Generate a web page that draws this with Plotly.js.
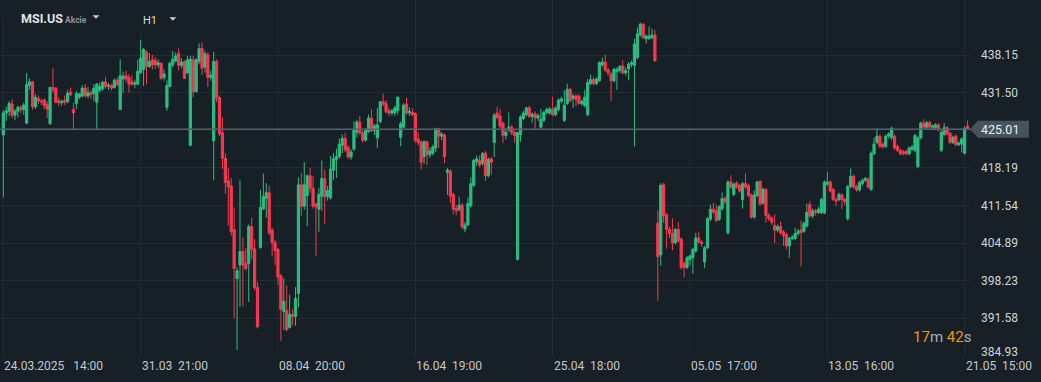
<!DOCTYPE html>
<html><head><meta charset="utf-8">
<script src="https://cdn.plot.ly/plotly-3.0.1.min.js"></script>
<style>html,body{margin:0;padding:0;background:#182027;}#chart{width:1041px;height:382px;}</style>
</head><body><div id="chart"></div>
<script>
const opens = [
424.0,427.9,428.2,429.5,427.5,428.2,428.9,428.5,426.1,432.8,
433.4,429.0,430.5,430.0,430.2,429.4,426.0,432.4,432.3,430.1,
429.7,430.1,429.9,431.6,428.5,429.6,430.7,430.9,432.3,430.9,
431.5,431.3,429.8,431.9,432.2,433.4,432.6,432.8,432.4,433.7,
428.5,433.9,434.5,434.2,433.4,433.0,433.0,435.0,435.6,438.7,
436.1,437.3,437.2,436.4,436.7,434.2,428.9,432.6,436.4,437.1,
438.4,436.3,437.0,435.0,422.2,437.3,431.7,437.0,439.3,436.0,
438.2,434.2,423.0,437.0,430.6,424.4,419.9,415.9,415.0,407.3,
398.6,401.0,403.4,401.3,401.3,407.8,403.9,397.0,404.1,410.9,
412.8,413.8,407.2,405.0,403.8,399.1,392.8,393.0,390.0,392.3,
391.9,396.0,415.2,411.4,413.3,416.8,414.6,411.8,410.9,413.2,
416.3,413.1,412.9,417.8,419.7,420.2,422.2,423.4,421.8,420.1,
421.5,424.5,426.3,424.4,423.1,424.6,427.0,424.8,423.5,426.4,
429.9,429.6,428.3,427.9,427.9,428.3,423.6,425.4,429.5,427.9,
428.0,427.8,423.3,422.8,420.2,422.8,420.5,420.8,421.7,425.1,
423.8,424.0,417.4,417.6,413.5,411.0,410.9,411.6,407.4,408.1,
411.5,415.1,419.3,419.5,419.0,420.8,416.8,419.8,422.7,427.9,
427.4,426.1,423.9,424.9,425.4,424.5,402.0,424.1,426.9,427.6,
428.8,427.3,427.7,427.0,425.4,426.6,428.0,427.9,428.6,427.6,
428.5,430.0,426.6,429.6,432.1,430.5,430.9,430.9,429.6,429.2,
427.6,433.1,433.8,433.1,433.6,436.4,436.9,435.5,434.8,433.6,
435.2,435.4,436.2,435.0,435.7,436.5,436.3,437.7,441.7,443.6,
441.0,441.1,441.2,441.7,408.4,402.8,415.2,409.9,407.3,406.6,
405.0,407.3,405.6,401.3,400.6,402.0,402.3,403.5,405.8,405.1,
401.6,404.1,409.1,410.9,410.6,409.1,411.0,412.8,406.7,415.7,
413.5,415.5,415.1,412.6,415.4,415.1,413.4,409.5,413.3,415.8,
412.0,414.4,409.8,409.3,408.0,407.2,407.8,406.9,406.4,404.4,
405.7,405.7,406.6,407.2,407.0,407.9,411.7,409.7,410.6,410.3,
410.3,410.2,415.3,415.7,414.4,412.6,412.6,413.4,412.6,409.2,
414.9,416.7,414.9,414.3,415.4,416.0,416.2,414.4,420.7,422.7,
423.8,422.4,422.0,423.8,423.5,423.8,422.0,421.3,421.1,421.1,
420.7,421.5,421.3,418.4,423.5,426.1,425.4,426.2,425.4,425.3,
425.8,421.3,424.1,425.3,424.3,422.7,423.8,422.3,422.4,420.8,
425.6];
const highs = [
428.4,429.0,430.0,430.3,428.6,429.2,429.3,429.7,435.0,434.0,
433.6,431.2,431.0,430.4,430.5,430.0,432.6,435.8,432.5,430.6,
430.3,431.0,432.0,432.4,429.7,431.8,431.4,432.8,433.0,432.5,
431.9,433.0,433.2,433.3,433.6,434.3,433.2,433.0,434.0,434.2,
437.4,435.2,435.4,434.8,434.6,433.8,437.3,440.8,439.4,439.0,
438.5,438.2,437.8,437.4,436.8,435.6,433.7,437.0,438.9,438.6,
439.3,437.6,437.2,438.0,438.0,438.0,437.6,440.2,440.4,438.9,
438.6,435.4,438.7,437.4,431.0,427.1,420.8,418.2,416.4,411.2,
400.6,416.0,405.9,404.0,408.2,409.4,405.6,398.0,414.3,417.2,
415.5,415.1,407.6,405.5,404.0,399.4,398.7,397.4,395.8,393.2,
397.1,416.5,417.3,419.2,417.0,418.2,416.8,412.0,414.7,419.5,
417.9,415.0,420.3,420.8,421.6,423.4,424.1,424.4,422.2,421.5,
426.4,426.7,427.4,424.8,425.2,427.6,428.5,426.0,428.8,430.0,
431.3,430.2,428.8,428.6,429.2,430.8,426.4,429.6,430.6,428.9,
428.7,428.0,424.5,423.0,423.1,423.0,421.8,422.3,425.3,425.3,
424.5,424.3,418.2,418.0,413.8,411.6,413.1,412.0,408.6,413.0,
416.5,419.8,420.4,420.4,421.0,421.2,420.0,420.1,427.9,429.0,
428.6,426.4,425.2,428.0,425.8,424.8,424.6,427.5,428.3,429.0,
429.2,428.0,428.2,427.8,428.6,428.3,428.9,429.0,430.8,429.1,
430.5,430.8,431.9,433.1,432.4,431.3,431.2,431.2,430.3,432.0,
433.9,434.7,434.3,434.2,437.0,437.7,438.2,435.9,435.1,435.9,
436.0,436.4,437.2,435.9,436.9,437.2,441.0,443.0,443.9,443.8,
441.8,443.2,442.8,442.6,410.7,415.5,415.6,410.2,407.8,409.3,
407.6,408.6,405.9,401.6,402.6,402.9,404.1,406.7,406.9,405.4,
404.4,409.5,411.7,412.0,411.7,411.6,413.8,413.2,416.0,416.9,
415.6,415.9,415.4,415.7,417.2,415.4,413.7,414.2,415.9,416.0,
414.7,414.6,410.2,409.6,410.0,408.2,408.7,407.2,406.7,406.0,
406.3,407.6,407.4,408.9,408.7,411.9,412.3,411.0,411.0,411.3,
412.9,416.0,417.5,416.0,414.7,412.9,413.8,413.7,412.9,415.2,
418.1,417.0,415.2,415.9,416.3,416.6,416.5,421.1,423.5,425.2,
424.1,422.7,424.1,424.5,425.5,424.1,422.3,421.6,421.4,421.4,
422.0,422.2,424.2,423.8,426.4,426.8,426.5,426.5,425.9,426.1,
426.1,424.8,426.1,425.6,424.6,423.9,424.1,422.9,423.6,425.5,
426.6];
const lows = [
413.0,426.5,427.3,427.0,426.6,427.1,427.9,427.6,425.9,432.0,
428.5,428.6,429.5,429.3,428.5,427.0,425.8,431.5,429.6,429.1,
429.2,429.3,429.6,430.9,425.0,428.6,430.3,430.7,430.6,430.5,
430.4,430.0,424.9,431.5,431.8,432.2,432.0,431.9,432.2,432.6,
428.4,431.5,433.4,431.5,432.7,432.3,432.8,434.8,432.7,433.0,
435.9,435.6,435.7,435.9,433.8,433.6,428.3,432.4,436.0,436.8,
435.4,435.8,433.9,434.8,422.0,430.7,431.5,436.5,434.6,435.0,
432.5,433.6,416.0,429.8,423.8,418.0,413.6,408.0,406.2,391.6,
386.0,393.6,393.7,400.0,394.5,402.0,396.5,389.8,403.9,410.9,
409.4,406.3,402.5,401.0,397.5,387.6,389.5,389.3,389.8,390.4,
390.3,393.5,409.7,410.8,407.9,413.8,411.0,402.6,406.9,410.6,
408.2,412.4,412.6,416.1,416.4,419.8,420.8,421.0,419.8,419.6,
421.2,423.6,424.0,422.6,422.8,424.4,424.5,424.0,421.7,426.0,
429.1,427.8,427.3,427.5,427.4,427.6,422.0,425.2,427.6,427.4,
427.3,422.6,422.2,417.9,418.9,418.7,420.0,420.4,421.0,421.7,
423.1,419.0,413.4,412.0,410.0,409.8,410.5,407.4,406.8,407.9,
411.2,414.8,418.6,418.3,418.6,415.9,416.5,417.0,420.1,426.8,
425.2,422.6,423.2,424.6,424.0,422.6,401.8,422.8,426.6,427.3,
427.0,426.2,424.9,426.5,425.1,426.3,427.6,427.6,427.3,427.3,
428.2,429.6,426.3,429.3,429.8,428.8,429.1,429.3,429.2,428.9,
427.3,432.8,432.8,432.8,433.4,436.1,435.2,434.5,430.0,433.3,
432.0,435.0,434.7,434.5,433.7,436.0,422.0,437.4,441.4,441.0,
440.2,440.8,441.0,437.0,394.7,400.9,408.5,403.9,405.8,403.6,
404.6,405.0,400.2,398.8,400.3,401.0,399.5,403.2,404.8,404.2,
400.5,403.8,408.8,410.0,408.6,408.8,410.6,411.8,406.4,414.5,
413.2,414.5,413.8,411.0,414.5,413.0,409.2,409.2,413.0,411.5,
411.7,408.5,408.8,408.1,404.9,406.8,406.4,404.4,403.8,402.3,
405.4,405.4,406.2,400.8,406.7,407.6,409.4,409.3,409.8,410.0,
410.0,410.0,415.0,413.8,412.3,411.4,412.3,410.9,411.6,408.9,
414.6,414.5,414.0,414.0,415.1,415.7,414.5,414.1,420.4,422.4,
421.7,421.6,421.7,423.4,423.2,421.4,421.0,420.4,420.4,420.4,
420.4,421.2,421.0,418.1,423.2,425.1,425.1,425.1,425.1,425.0,
424.6,421.0,423.8,423.9,422.4,422.4,422.0,422.0,420.9,420.5,
424.9];
const closes = [
427.9,428.3,429.6,427.5,428.2,428.9,428.5,429.3,432.9,433.4,
429.0,430.7,430.0,429.9,429.2,428.6,432.4,432.0,429.8,429.7,
429.9,429.8,431.4,431.1,427.9,431.3,431.3,432.3,430.9,431.5,
431.2,432.3,433.0,432.6,433.3,432.6,432.8,432.3,433.7,432.9,
434.5,434.4,433.9,433.0,433.0,433.2,435.3,437.6,439.1,436.1,
437.0,436.4,436.4,436.8,434.0,434.8,432.8,436.7,437.4,438.0,
436.3,436.9,434.0,437.3,437.4,431.7,437.3,439.3,435.8,438.4,
434.2,434.6,437.0,430.6,424.2,419.9,415.6,414.8,406.9,400.4,
400.0,403.4,401.0,400.4,407.8,403.8,397.0,390.1,411.2,413.1,
413.8,406.7,405.0,403.5,398.9,393.2,394.6,389.6,392.3,391.9,
395.1,415.2,411.4,415.2,416.8,414.6,411.4,411.3,413.5,416.3,
413.1,414.2,418.0,419.8,420.2,422.4,423.4,421.4,420.1,421.0,
424.8,426.3,424.4,423.1,424.8,427.0,424.8,425.6,425.8,429.9,
429.5,428.1,427.9,428.3,428.8,430.7,426.0,429.3,427.9,428.2,
427.6,423.1,422.6,419.2,422.8,420.5,421.2,421.9,425.1,423.8,
424.2,420.2,417.8,413.2,410.9,410.6,411.6,407.8,408.1,411.9,
415.4,419.5,419.8,418.7,420.7,416.8,419.7,419.2,427.5,427.1,
425.6,423.9,424.5,425.4,424.4,423.9,424.4,427.2,427.9,428.8,
427.3,427.7,427.0,427.4,426.8,428.0,428.5,428.6,427.6,428.8,
430.2,430.4,429.3,432.1,430.1,430.9,430.3,429.6,429.9,430.7,
433.3,433.8,433.1,433.9,436.8,436.9,435.5,435.0,433.6,435.6,
435.6,436.1,435.0,435.4,436.5,436.8,440.1,441.9,443.6,441.2,
441.5,441.5,441.7,437.1,402.5,415.1,409.7,407.3,406.6,404.9,
407.3,405.3,400.6,400.6,402.3,402.6,403.8,405.8,405.1,404.8,
404.1,409.2,410.9,410.4,408.9,411.3,412.8,412.2,415.7,414.8,
415.3,414.8,414.1,415.4,414.8,413.3,409.5,413.4,415.7,411.8,
414.4,409.8,409.2,408.6,407.2,407.8,406.7,406.2,404.4,405.7,
406.0,406.6,407.0,406.8,408.4,410.3,409.7,410.6,410.3,410.9,
412.6,415.7,415.7,414.1,412.6,412.3,413.5,412.6,412.2,414.9,
416.7,414.8,414.3,415.6,416.0,416.3,414.8,420.8,422.4,423.8,
422.0,421.9,423.8,424.2,425.2,421.7,421.3,420.7,420.7,420.7,
421.7,421.9,423.9,423.5,426.1,425.4,426.2,425.4,425.6,425.8,
424.9,424.5,425.3,424.2,422.7,423.6,422.3,422.6,423.3,425.2,
425.01];

const xTickIdx = [0, 47, 94, 141, 188, 235, 282, 329];
const xTickText = ['24.03.2025   14:00', '31.03  21:00', '08.04  20:00', '16.04  19:00',
                   '25.04  18:00', '05.05  17:00', '13.05  16:00', '21.05  15:00'];
const yTickVals = [384.93, 391.58, 398.23, 404.89, 411.54, 418.19, 431.50, 438.15];
const yTickText = ['384.93', '391.58', '398.23', '404.89', '411.54', '418.19', '431.50', '438.15'];
const lastPrice = 425.01;
const symbol = 'MSI.US';
const symbolType = 'Akcie';
const timeframe = 'H1';
const countdown = ['17', '42'];

const yMin = 384.93, yMax = 447.88;
const BG = '#182027', GRID = '#232d35';
const idx = opens.map((_, i) => i);

const W = 971, H = 356; // plot area in px
const px = v => v / W;
const py = v => (H - v) / H;
const nb = s => s.replace(/ /g, '\u00a0');

const annotations = [];
yTickVals.forEach((v, k) => {
  annotations.push({xref: 'paper', yref: 'y', x: 1, y: v, xanchor: 'left', yanchor: 'middle',
    xshift: 8, yshift: k === 0 ? 4 : 0, showarrow: false, text: yTickText[k],
    font: {family: 'Roboto', size: 12, color: '#d0d4d7'}});
});
xTickIdx.forEach((v, k) => {
  annotations.push({xref: 'x', yref: 'paper', x: v, y: 0, xanchor: 'left', yanchor: 'top',
    xshift: -1, yshift: -1, showarrow: false, text: nb(xTickText[k]),
    font: {family: 'Roboto', size: 12, color: '#c4c8cb'}});
});
annotations.push({xref: 'paper', yref: 'y', x: 1, y: lastPrice, xanchor: 'left', yanchor: 'middle',
  xshift: 8, showarrow: false, text: lastPrice.toFixed(2),
  font: {family: 'Roboto', size: 12.5, color: '#eef0f2'}});
annotations.push({xref: 'paper', yref: 'paper', x: px(19), y: py(18.5), xanchor: 'left', yanchor: 'middle',
  showarrow: false, text: '<b>' + symbol + '</b>', font: {family: 'Roboto', size: 12.5, color: '#e1e4e7'}});
annotations.push({xref: 'paper', yref: 'paper', x: px(63), y: py(19.5), xanchor: 'left', yanchor: 'middle',
  showarrow: false, text: '<b>' + symbolType + '</b>', font: {family: 'Roboto', size: 8.5, color: '#8a9298'}});
annotations.push({xref: 'paper', yref: 'paper', x: px(140.5), y: py(20.3), xanchor: 'left', yanchor: 'middle',
  showarrow: false, text: timeframe, font: {family: 'Roboto', size: 11, color: '#d6d9dc'}});
annotations.push({xref: 'paper', yref: 'paper', x: px(973), y: py(337), xanchor: 'right', yanchor: 'middle',
  showarrow: false,
  text: '<span style="color:#ef9510">' + countdown[0] + '</span>m <span style="color:#ef9510">' + countdown[1] + '</span>s',
  font: {family: 'Roboto', size: 15, color: '#a9afb4'}});

const pP = (lastPrice - yMin) / (yMax - yMin);
const hb = 8.5 / H;
const shapes = [
  {type: 'line', xref: 'paper', yref: 'y', x0: 0, x1: 1, y0: lastPrice, y1: lastPrice,
   line: {color: '#56636e', width: 1.5}},
  {type: 'path', xref: 'paper', yref: 'paper', fillcolor: '#46535d', line: {width: 0},
   path: `M ${px(970)},${pP} L ${px(978)},${pP + hb} L ${px(1029)},${pP + hb} L ${px(1029)},${pP - hb} L ${px(978)},${pP - hb} Z`},
  {type: 'path', xref: 'paper', yref: 'paper', fillcolor: '#c9cdd1', line: {width: 0},
   path: `M ${px(92.5)},${py(15.2)} L ${px(99.5)},${py(15.2)} L ${px(96)},${py(18.8)} Z`},
  {type: 'path', xref: 'paper', yref: 'paper', fillcolor: '#c9cdd1', line: {width: 0},
   path: `M ${px(169.3)},${py(17.3)} L ${px(176.3)},${py(17.3)} L ${px(172.8)},${py(20.8)} Z`}
];
// vertical grid lines (cut near the header)
xTickIdx.forEach((v, k) => {
  const top = k === 0 ? py(17) : (k === 1 ? py(32) : 1);
  shapes.push({type: 'line', xref: 'x', yref: 'paper', x0: v, x1: v, y0: 0, y1: top,
    layer: 'below', line: {color: GRID, width: 1}});
});

const trace = {
  type: 'candlestick', x: idx, open: opens, high: highs, low: lows, close: closes,
  increasing: {line: {color: '#2bbd80', width: 1}, fillcolor: '#2bbd80'},
  decreasing: {line: {color: '#f8384f', width: 1}, fillcolor: '#f8384f'},
  whiskerwidth: 0, hoverinfo: 'skip'
};

const layout = {
  width: 1041, height: 382,
  margin: {l: 0, r: 70, t: 0, b: 26, pad: 0},
  paper_bgcolor: BG, plot_bgcolor: BG,
  showlegend: false, dragmode: false, hovermode: false,
  boxgap: 0.25, boxgroupgap: 0,
  xaxis: {range: [-1.13, 331.18], showgrid: false, zeroline: false, showticklabels: false,
    showline: false, ticks: '', rangeslider: {visible: false}, fixedrange: true},
  yaxis: {range: [yMin, yMax], side: 'right', tickvals: yTickVals, showticklabels: false,
    showgrid: true, gridcolor: GRID, gridwidth: 1, zeroline: false, showline: false, ticks: '', fixedrange: true},
  annotations: annotations, shapes: shapes
};

Plotly.newPlot('chart', [trace], layout, {displayModeBar: false, staticPlot: true});
</script>
</body></html>
